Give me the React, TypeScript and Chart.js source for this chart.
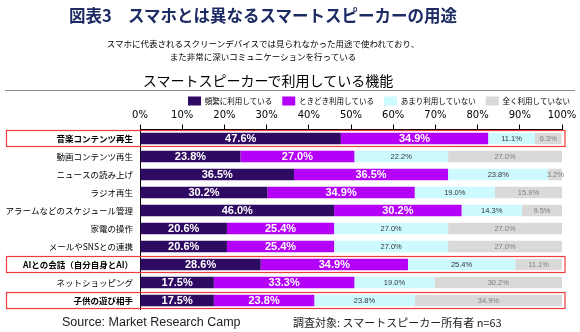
import React, { useEffect, useRef } from 'react';
import { Chart, registerables } from 'chart.js';

Chart.register(...registerables);

const categories = [
  '音楽コンテンツ再生',
  '動画コンテンツ再生',
  'ニュースの読み上げ',
  'ラジオ再生',
  'アラームなどのスケジュール管理',
  '家電の操作',
  'メールやSNSとの連携',
  'AIとの会話（自分自身とAI）',
  'ネットショッピング',
  '子供の遊び相手',
];
const seriesNames = ['頻繁に利用している', 'ときどき利用している', 'あまり利用していない', '全く利用していない'];
const frequently = [47.6, 23.8, 36.5, 30.2, 46.0, 20.6, 20.6, 28.6, 17.5, 17.5];
const sometimes = [34.9, 27.0, 36.5, 34.9, 30.2, 25.4, 25.4, 34.9, 33.3, 23.8];
const rarely = [11.1, 22.2, 23.8, 19.0, 14.3, 27.0, 27.0, 25.4, 19.0, 23.8];
const never = [6.3, 27.0, 3.2, 15.9, 9.5, 27.0, 27.0, 11.1, 30.2, 34.9];
const highlightedRows = [0, 7, 9];

const COLORS = ['#2E0A62', '#B400F8', '#CCFAFF', '#D9D9D9'];
const JP = '"Noto Sans CJK JP", "Noto Sans", sans-serif';

const labelStyles = [
  { font: 'bold 11px "Liberation Sans", Arial, sans-serif', color: '#FFFFFF' },
  { font: 'bold 11px "Liberation Sans", Arial, sans-serif', color: '#FFFFFF' },
  { font: '7.5px "Liberation Sans", Arial, sans-serif', color: '#333333' },
  { font: '7.5px "Liberation Sans", Arial, sans-serif', color: '#7F7F7F' },
];

const legendSizer = {
  id: 'legendSizer',
  afterInit(chart: any) {
    const lg = chart.legend;
    if (!lg) return;
    const fit = lg.fit;
    lg.fit = function () {
      fit.call(this);
      this.height = 22;
    };
  },
};

const barLabels = {
  id: 'barLabels',
  afterDatasetsDraw(chart: any) {
    const ctx = chart.ctx;
    chart.data.datasets.forEach((ds: any, di: number) => {
      const meta = chart.getDatasetMeta(di);
      const st = labelStyles[di];
      meta.data.forEach((el: any, i: number) => {
        const p = el.getProps(['x', 'y', 'base'], true);
        ctx.save();
        ctx.font = st.font;
        ctx.fillStyle = st.color;
        ctx.textAlign = 'center';
        ctx.textBaseline = 'middle';
        ctx.fillText(Number(ds.data[i]).toFixed(1) + '%', (p.x + p.base) / 2, p.y + 0.5);
        ctx.restore();
      });
    });
  },
};

const highlightBoxes = {
  id: 'highlightBoxes',
  afterDraw(chart: any) {
    const ctx = chart.ctx;
    const ys = chart.scales.y;
    ctx.save();
    ctx.strokeStyle = '#EE3B3B';
    ctx.lineWidth = 1.2;
    highlightedRows.forEach((r) => {
      const yc = ys.getPixelForValue(r);
      ctx.strokeRect(6.5, yc - 8, 558.5, 16);
    });
    ctx.restore();
  },
};

export default function App() {
  const ref = useRef<HTMLCanvasElement | null>(null);

  useEffect(() => {
    if (!ref.current) return;
    const chart = new Chart(ref.current, {
      type: 'bar',
      data: {
        labels: categories,
        datasets: [frequently, sometimes, rarely, never].map((d, i) => ({
          label: seriesNames[i],
          data: d,
          backgroundColor: COLORS[i],
          borderWidth: 0,
          barPercentage: 0.64,
          categoryPercentage: 1,
        })),
      },
      options: {
        indexAxis: 'y',
        responsive: false,
        animation: false,
        layout: { padding: { top: 86.5, bottom: 22.5, left: 0, right: 0 } },
        plugins: {
          legend: {
            position: 'top',
            align: 'end',
            labels: {
              boxWidth: 13,
              boxHeight: 9,
              padding: 10,
              color: '#000',
              font: { family: JP, size: 7.5 },
            },
          },
          tooltip: { enabled: false },
        },
        scales: {
          x: {
            position: 'top',
            stacked: true,
            min: 0,
            max: 100,
            ticks: {
              stepSize: 10,
              autoSkip: false,
              maxRotation: 0,
              padding: 3,
              color: '#000',
              font: { family: '"DejaVu Sans", sans-serif', size: 10 },
              callback: (v: any) => v + '%',
            },
            grid: { drawOnChartArea: false, drawTicks: true, tickLength: 5, color: '#000' },
            border: { display: true, color: '#000' },
            afterFit: (s: any) => {
              s.height = 21;
            },
          },
          y: {
            stacked: true,
            ticks: {
              padding: 7,
              color: '#000',
              autoSkip: false,
              font: (c: any) => ({
                family: JP,
                size: 8.5,
                weight: highlightedRows.includes(c.index) ? 'bold' : 'normal',
              }),
            },
            grid: { display: true, drawOnChartArea: false, drawTicks: false },
            border: { display: true, color: '#000', width: 1 },
            afterFit: (s: any) => {
              s.width = 140;
            },
          },
          yPad: {
            type: 'linear',
            position: 'right',
            display: true,
            grid: { display: false },
            border: { display: false },
            ticks: { display: false },
            afterFit: (s: any) => {
              s.width = 18;
            },
          },
        },
      } as any,
      plugins: [legendSizer, barLabels, highlightBoxes],
    });
    return () => chart.destroy();
  }, []);

  const abs: React.CSSProperties = { position: 'absolute', whiteSpace: 'nowrap' };

  return (
    <div style={{ position: 'absolute', left: 0, top: 0, width: 580, height: 332, background: '#fff', overflow: 'hidden' }}>
      <canvas ref={ref} width={580} height={332} style={{ position: 'absolute', left: 0, top: 0 }} />
      <div style={{ ...abs, left: 0, width: 526, top: 4, textAlign: 'center', fontFamily: JP, fontWeight: 'bold', fontSize: 16.5, color: '#1C2B63', lineHeight: '22px' }}>
        図表3　スマホとは異なるスマートスピーカーの用途
      </div>
      <div style={{ ...abs, left: 0, width: 526, top: 37, textAlign: 'center', fontFamily: JP, fontSize: 8.5, color: '#000', lineHeight: '12.5px' }}>
        スマホに代表されるスクリーンデバイスでは見られなかった用途で使われており、
        <br />
        また非常に深いコミュニケーションを行っている
      </div>
      <div style={{ ...abs, left: 0, width: 536, top: 70, textAlign: 'center', fontFamily: JP, fontSize: 14, color: '#000', lineHeight: '20px' }}>
        スマートスピーカーで利用している機能
      </div>
      <div style={{ position: 'absolute', left: 5, top: 90, width: 570, height: 0, borderTop: '1.5px solid #8C8C8C' }} />
      <div style={{ ...abs, left: 62, top: 314, fontFamily: '"Liberation Sans", Arial, sans-serif', fontSize: 12.5, color: '#222', lineHeight: '16px' }}>
        Source: Market Research Camp
      </div>
      <div style={{ ...abs, left: 293, top: 314, fontFamily: JP, fontSize: 11, color: '#222', lineHeight: '16px' }}>
        調査対象: スマートスピーカー所有者 n=63
      </div>
    </div>
  );
}
